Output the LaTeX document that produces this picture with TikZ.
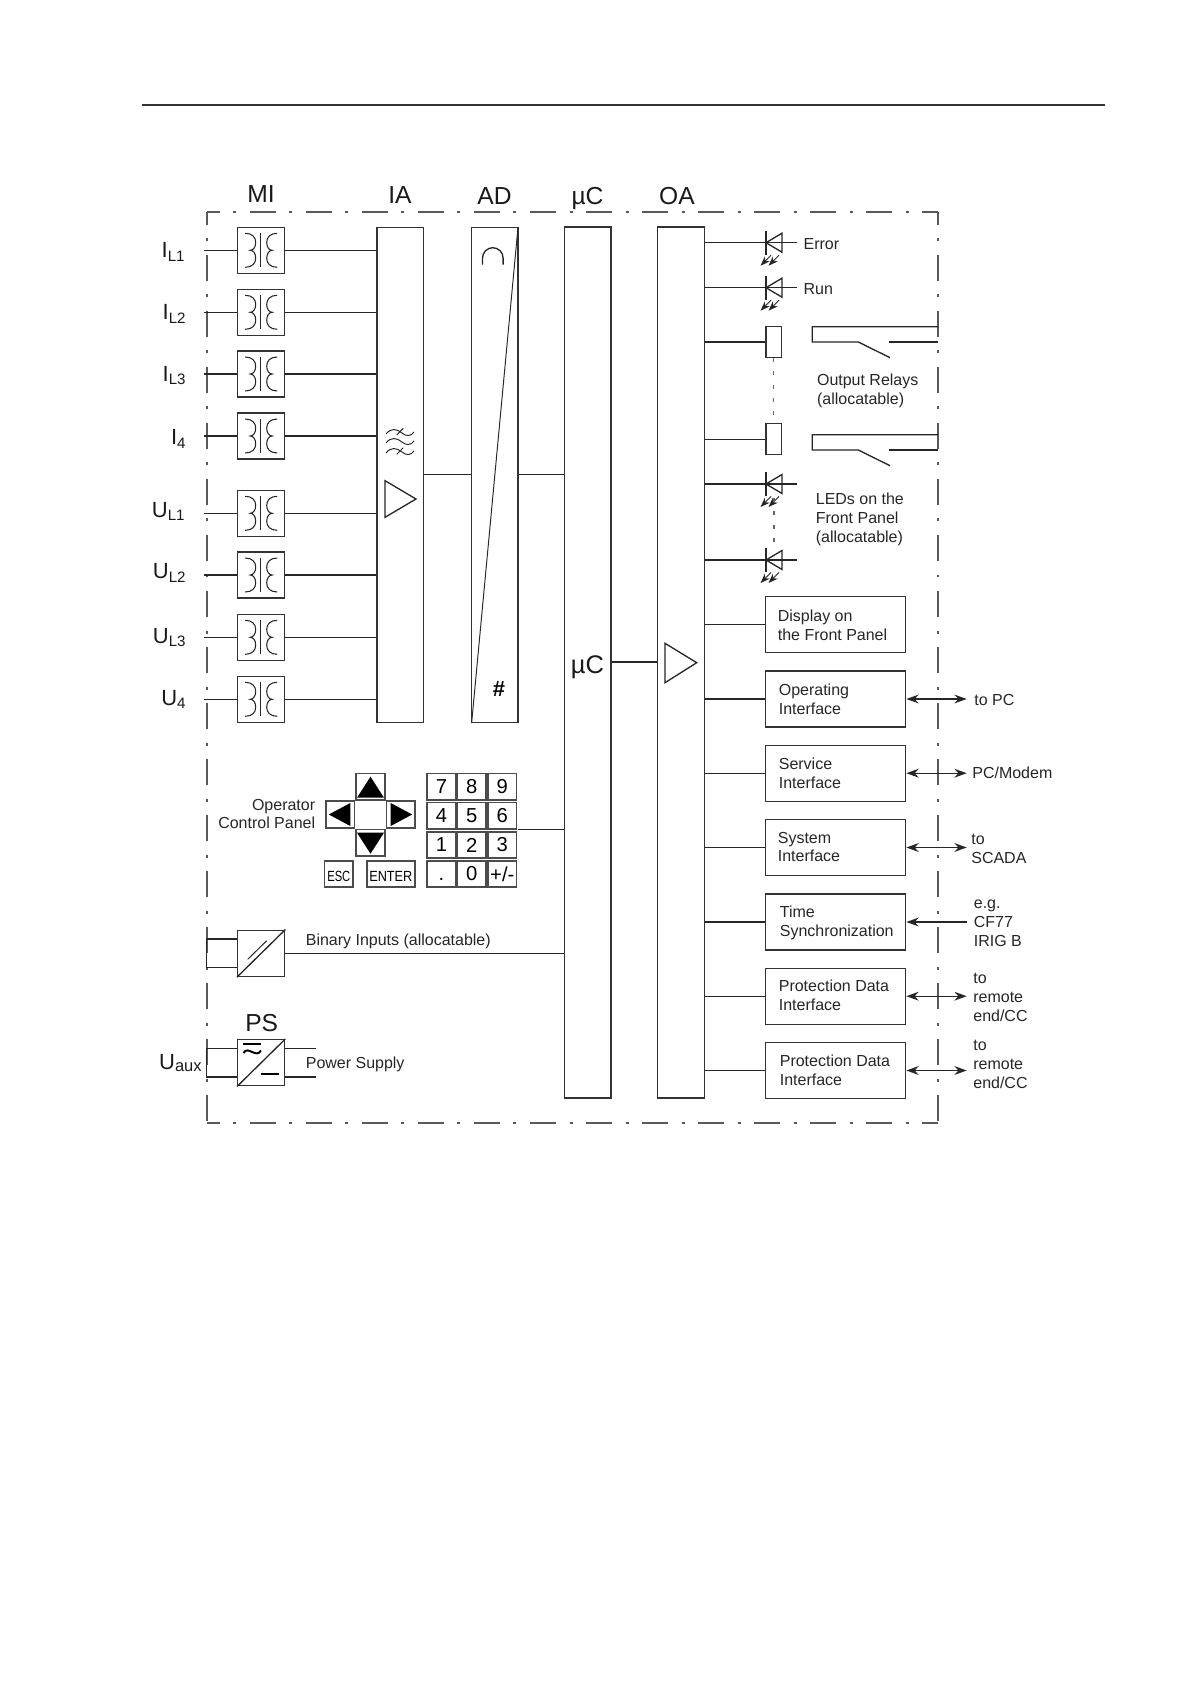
\documentclass[tikz,border=0pt]{standalone}
\usepackage{fontspec}
\setmainfont{Liberation Sans}
\usetikzlibrary{arrows.meta}

\tikzset{
  wire/.style={line width=0.75pt, black!85},
  thin wire/.style={line width=0.55pt, black!85},
  box/.style={draw=black!80, line width=0.75pt, inner sep=0pt},
  bar/.style={box, minimum width=0.934cm},
  trafo/.style={box, minimum width=0.94cm, minimum height=0.925cm},
  ifbox/.style={box, minimum width=2.8cm, minimum height=1.12cm},
  key/.style={draw=black!70, line width=1pt, inner sep=0pt},
  txt/.style={font=\fontsize{9.1}{10.8}\selectfont, text=black!85},
  free/.style={txt, inner sep=0pt, align=left, anchor=west},
  head/.style={font=\fontsize{14}{15}\selectfont, text=black!90, inner sep=0pt, anchor=base},
  sym/.style={font=\fontsize{12.5}{14}\selectfont, text=black!90, inner sep=0pt, anchor=base east},
  frame/.style={line width=1pt, black!65, dash pattern=on 14.8pt off 7.7pt on 1.7pt off 7.7pt, dash phase=7.4pt},
  vdots/.style={line width=0.7pt, black!60, dash pattern=on 2.2pt off 5.4pt},
  twoway/.style={wire, <->, >={Stealth[length=7pt,width=5pt]}},
  oneway/.style={wire, <-, >={Stealth[length=7pt,width=5pt]}},
}
\newcommand{\subs}[2]{#1\raisebox{-2.2pt}{\fontsize{8.6}{10}\selectfont #2}}

\begin{document}
\begin{tikzpicture}[x=0.02cm, y=-0.02cm]
\useasboundingbox (0,0) rectangle (1190,1682);

%% rule on top of the page
\coordinate (ruleL) at (141.6,105);
\coordinate (ruleR) at (1105,105);
\draw[line width=0.6pt, black!80] (ruleL) -- (ruleR);

%% housing, each side on its own
\coordinate (frameTL) at (206.7,211.7);
\coordinate (frameTR) at (938.3,211.7);
\coordinate (frameBL) at (206.7,1123.3);
\coordinate (frameBR) at (938.3,1123.3);
\draw[frame] (frameTL) -- (frameTR);
\draw[frame] (frameTL) -- (frameBL);
\draw[frame] (frameBL) -- (frameBR);
\draw[frame] (frameTR) -- (frameBR);

%% column heads
\node[head] (hMI) at (261,202.5) {MI};
\node[head] (hIA) at (400,203.7) {IA};
\node[head] (hAD) at (494.5,205) {AD};
\node[head] (hmuC) at (587.5,205) {µC};
\node[head] (hOA) at (677,205) {OA};

%% the four bars
\node[bar, minimum height=9.9cm] (IA) at (400.3,474.8) {};
\node[bar, minimum height=9.9cm] (AD) at (494.8,474.8) {};
\node[bar, minimum height=17.42cm] (muC) at (587.7,662.5) {};
\node[bar, minimum height=17.42cm] (OA) at (681,662.5) {};
\node[head, font=\fontsize{14.5}{15}\selectfont, anchor=center] (muClabel) at (587.5,667.5) {µC};

%% measuring inputs
\foreach \iA/\iY/\iLab/\iBase/\iRight in {
  1/250.3/\subs{I}{L1}/257.5/185,
  2/312.3/\subs{I}{L2}/319.3/186,
  3/374/\subs{I}{L3}/381/186,
  4/436/\subs{I}{4}/444.3/186,
  5/513.3/\subs{U}{L1}/517/185,
  6/575/\subs{U}{L2}/578.7/186,
  7/637.3/\subs{U}{L3}/643/186,
  8/699.3/\subs{U}{4}/705/186}{
\node[trafo] (trafo\iA) at (261.2,\iY) {};
\coordinate (inp\iA) at (204,\iY);
\node[sym] (lab\iA) at (\iRight,\iBase) {\iLab};
\draw[wire] (inp\iA) -- (trafo\iA.west);
\draw[wire] (trafo\iA.east) -- (IA.west |- trafo\iA);
%% windings and core
\begin{scope}[shift={(trafo\iA.center)}, thin wire]
\draw (-0.5,-17) -- (-0.5,17);
\foreach \iS in {-1,1}{
\draw[line width=0.6pt] (\iS*16,-17) .. controls (\iS*9,-17) and (\iS*5.5,-13) .. (\iS*5.5,-8)
  .. controls (\iS*5.5,-3) and (\iS*8,0) .. (\iS*11,0)
  .. controls (\iS*8,0) and (\iS*5.5,3) .. (\iS*5.5,8)
  .. controls (\iS*5.5,13) and (\iS*9,17) .. (\iS*16,17);
}
\end{scope}
}

%% filter and amplifier in IA
\foreach \iY in {434,443,453}{
\draw[thin wire] (386,\iY) .. controls (391,\iY-6.5) and (397,\iY-5) .. (402,\iY-1)
  .. controls (406,\iY+2.5) and (411,\iY+2.5) .. (414,\iY-2);
}
\draw[thin wire] (396.7,435) -- (403.3,428.3);
\draw[thin wire] (396.7,454.3) -- (403.3,447.7);
\draw[wire] (385,480.7) -- (416,499) -- (385,517.3) -- cycle;

%% AD bar
\draw[thin wire] (471.7,722.3) -- (518,227.3);
\draw[wire] (482.5,264.7) -- (482.5,258) arc (180:360:10.3) -- (503.1,264.7);
\node[font=\bfseries\fontsize{12.5}{14}\selectfont, inner sep=0pt] (hash) at (499,689.3) {\#};
\coordinate (linkIA) at (0,474.3);
\draw[wire] (IA.east |- linkIA) -- (AD.west |- linkIA);
\draw[wire] (AD.east |- linkIA) -- (muC.west |- linkIA);

%% OA
\coordinate (linkOA) at (0,662);
\draw[wire] (muC.east |- linkOA) -- (OA.west |- linkOA);
\draw[wire] (665,643.3) -- (696.7,662.7) -- (665,682.7) -- cycle;

%% LEDs
\foreach \iA/\iY in {1/242.7,2/287.7,3/484,4/560}{
\coordinate (ledend\iA) at (796.7,\iY);
\draw[wire] (OA.east |- ledend\iA) -- (ledend\iA);
\draw[wire] (766,\iY-12) -- (766,\iY+12);
\draw[wire] (766,\iY) -- (782,\iY-9.5) -- (782,\iY+9.5) -- cycle;
\draw[thin wire, ->, >={Stealth[length=5.5pt,width=4pt]}] (779,\iY+12.5) -- (768.5,\iY+23);
\draw[thin wire, ->, >={Stealth[length=5.5pt,width=4pt]}] (771,\iY+12.5) -- (760.5,\iY+23);
}
\node[free] (error) at (803.3,244.5) {Error};
\node[free] (run) at (803.3,289) {Run};

%% relays
\foreach \iA/\iY in {1/342,2/439.2}{
\node[box, minimum width=0.315cm, minimum height=0.615cm] (relay\iA) at (773.8,\iY) {};
\draw[wire] (OA.east |- relay\iA) -- (relay\iA.west);
}
\draw[vdots] (relay1.south) -- (relay2.north);
\draw[vdots] (774,498) -- (774,551);
\foreach \iY in {326.7,434.7}{
\draw[wire] (938.3,\iY) -- (812.3,\iY) -- (812.3,\iY+15.3) -- (858.3,\iY+15.3) -- (890,\iY+31);
\draw[wire] (889.3,\iY+15.3) -- (938.3,\iY+15.3);
}
\node[free] (relaytxt) at (816.7,390.7) {Output Relays\\(allocatable)};
\node[free] (ledtxt) at (815.5,519.2) {LEDs on the\\Front Panel\\(allocatable)};

%% interface boxes
\foreach \iName/\iY/\iTx/\iTy/\iTxt in {
  disp/624.5/777.5/625.7/Display on\\the Front Panel,
  opif/699/778.5/699.5/Operating\\Interface,
  svif/773.2/778.5/773.2/Service\\Interface,
  syif/847.5/777.5/847/System\\Interface,
  time/922/779.5/922.7/Time\\Synchronization,
  prot/996.2/778.5/995.7/Protection Data\\Interface,
  prob/1070.5/779.5/1070.7/Protection Data\\Interface}{
\node[ifbox] (\iName) at (835.7,\iY) {};
\node[free] (\iName-txt) at (\iTx,\iTy) {\iTxt};
\draw[wire] (OA.east |- \iName) -- (\iName.west);
}

%% external ends
\foreach \iName in {opif,svif,syif,time,prot,prob}{
\coordinate (\iName-end) at (\iName.east -| 966.7,0);
}
\draw[twoway] (opif.east) -- (opif-end);
\draw[twoway] (svif.east) -- (svif-end);
\draw[twoway] (syif.east) -- (syif-end);
\draw[oneway] (time.east) -- (time-end);
\draw[twoway] (prot.east) -- (prot-end);
\draw[twoway] (prob.east) -- (prob-end);
\node[free] (toPC) at (974,699.7) {to PC};
\node[free] (toModem) at (972,773) {PC/Modem};
\node[free] (toSCADA) at (971,849.3) {to\\SCADA};
\node[free] (toClock) at (973.5,923.2) {e.g.\\CF77\\IRIG B};
\node[free] (toRem) at (973,997.5) {to\\remote\\end/CC};
\node[free] (toRemb) at (973,1064.8) {to\\remote\\end/CC};

%% operator panel
\node[free, anchor=east, align=right] (optxt) at (315.5,814) {Operator\\Control Panel};
\node[key, minimum width=0.57cm, minimum height=0.53cm] (keyU) at (370.5,786.7) {};
\node[key, minimum width=0.57cm, minimum height=0.53cm] (keyD) at (370.5,842.7) {};
\node[key, minimum width=0.57cm, minimum height=0.53cm] (keyL) at (340.3,814.5) {};
\node[key, minimum width=0.57cm, minimum height=0.53cm] (keyR) at (400.7,814.5) {};
\fill[black] (keyU.center) ++(0,-10) -- ++(13.5,21) -- ++(-27,0) -- cycle;
\fill[black] (keyD.center) ++(0,11) -- ++(13.5,-21) -- ++(-27,0) -- cycle;
\fill[black] (keyL.center) ++(-11.5,0) -- ++(21.5,-11.5) -- ++(0,23) -- cycle;
\fill[black] (keyR.center) ++(11.5,0) -- ++(-21.5,-11.5) -- ++(0,23) -- cycle;
\node[key, minimum width=0.57cm, minimum height=0.52cm, font=\fontsize{8.4}{10}\selectfont] (keyEsc) at (338.8,874) {\smash{\raisebox{-4.1pt}{\scalebox{0.76}[1]{ESC}}}};
\node[key, minimum width=0.96cm, minimum height=0.52cm, font=\fontsize{8.4}{10}\selectfont] (keyEnter) at (390.8,874) {\smash{\raisebox{-4.1pt}{\scalebox{0.86}[1]{ENTER}}}};
\foreach \iLab/\iX/\iY [count=\iK] in {
  7/441.5/786.7, 8/471.7/786.7, 9/502.3/786.7,
  4/441.5/815.7, 5/471.7/815.7, 6/502.3/815.7,
  1/441.5/845, 2/471.7/845, 3/502.3/845,
  {\vphantom{0}.}/441.5/874, 0/471.7/874, {+/-}/502.3/874}{
\node[key, minimum width=0.57cm, minimum height=0.53cm, font=\fontsize{11.5}{13}\selectfont] (pad\iK) at (\iX,\iY) {\iLab};
}
\coordinate (padlink) at (pad6.south east);
\draw[wire] (padlink) ++(1,0) -- (muC.west |- padlink);

%% binary inputs
\node[trafo] (binary) at (261.2,953.3) {};
\draw[wire] (binary.south west) -- (binary.north east);
\draw[thin wire] (247.7,959.3) -- (266.7,940.7);
\coordinate (binTop) at (206.7,939);
\coordinate (binBot) at (206.7,967.3);
\draw[wire] (binary.west |- binTop) -- (binTop) -- (binBot) -- (binary.west |- binBot);
\draw[wire] (binary.east) -- (muC.west |- binary.east);
\node[free] (bintxt) at (305.5,941.5) {Binary Inputs (allocatable)};

%% power supply
\node[head] (hPS) at (261.7,1031) {PS};
\node[trafo] (power) at (261.2,1062.7) {};
\draw[wire] (power.south west) -- (power.north east);
\draw[line width=1.2pt, black] (243.3,1044.3) -- (260.7,1044.3);
\draw[line width=1.2pt, black] (260.7,1074) -- (279.3,1074);
\draw[line width=1.1pt, black] (243.5,1053) .. controls (248,1045) and (256,1059) .. (261,1050.5);
\coordinate (psTop) at (206.7,1048.3);
\coordinate (psBot) at (206.7,1077);
\coordinate (psTopR) at (316,1048.3);
\coordinate (psBotR) at (316,1077);
\draw[wire] (power.west |- psTop) -- (psTop) -- (psBot) -- (power.west |- psBot);
\draw[wire] (power.east |- psTopR) -- (psTopR);
\draw[wire] (power.east |- psBotR) -- (psBotR);
\node[sym] (uaux) at (202,1069.5) {U\raisebox{-1pt}{\fontsize{9.4}{11}\selectfont aux}};
\node[free] (pstxt) at (305.5,1064.8) {Power Supply};

\end{tikzpicture}
\end{document}
